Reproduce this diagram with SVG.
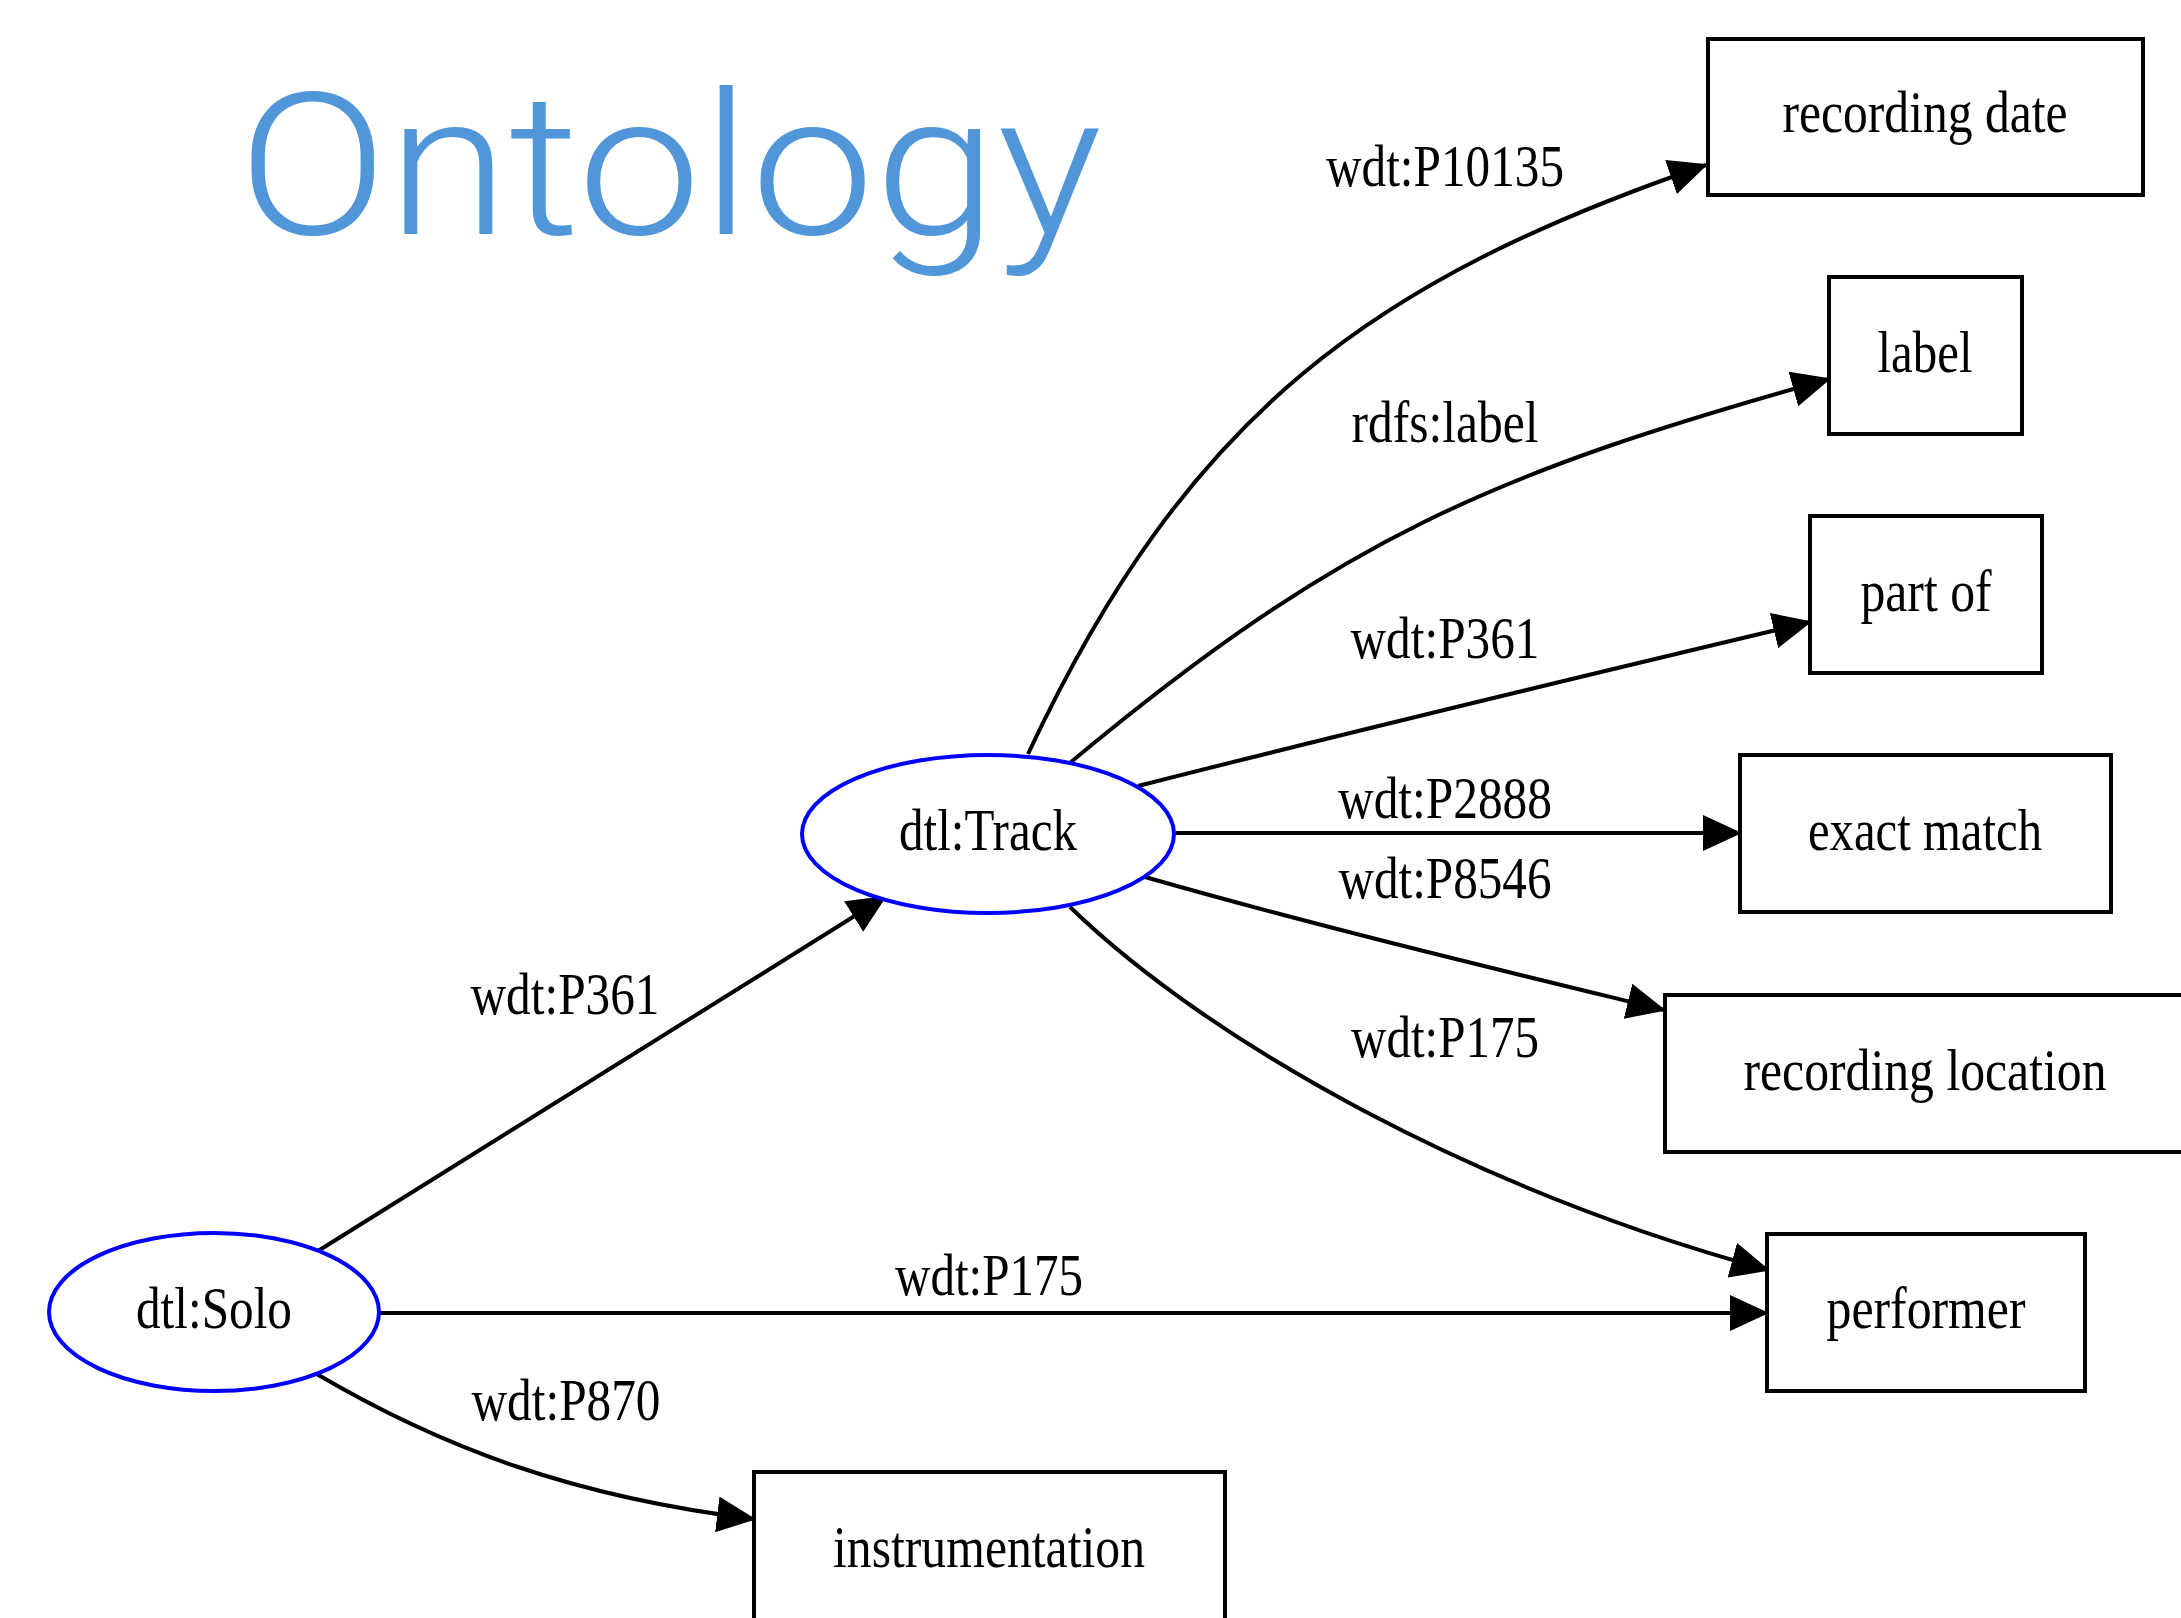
<svg xmlns="http://www.w3.org/2000/svg" width="2181" height="1618" viewBox="0 0 2181 1618">
<style>
.t{font-family:"Liberation Serif","Times New Roman",serif;font-size:60px;fill:#000;text-anchor:middle}
.box{fill:#fff;stroke:#000;stroke-width:4}
.ell{fill:#fff;stroke:#0000ff;stroke-width:4}
.e{fill:none;stroke:#000;stroke-width:4;marker-end:url(#arr)}
.title{font-family:Roboto,Lato,"Liberation Sans",Arial,sans-serif;font-weight:300;font-size:198px;fill:#5096d8}
</style>
<defs>
<marker id="arr" markerUnits="userSpaceOnUse" viewBox="0 0 39 36" markerWidth="39" markerHeight="36" refX="37" refY="18" orient="auto">
<path d="M0,0 L39,18 L0,36 z" fill="#000"/>
</marker>
</defs>
<rect width="2181" height="1618" fill="#fff"/>
<text class="title" x="238" y="234" textLength="864" lengthAdjust="spacingAndGlyphs">Ontology</text>
<g id="edges">
<path class="e" d="M1028,754 C1189,410 1375,279 1706,165"/>
<path class="e" d="M1071,762 C1340,538 1492,473 1829,379"/>
<path class="e" d="M1138,786 C1350,732 1600,672 1810,622"/>
<path class="e" d="M1176,833 L1740,833"/>
<path class="e" d="M1145,877 C1320,927 1500,970 1664,1010"/>
<path class="e" d="M1070,907 C1214,1046 1478,1191 1768,1270"/>
<path class="e" d="M318,1251 L885,897"/>
<path class="e" d="M380,1313 L1767,1313"/>
<path class="e" d="M315,1373 C444,1449 575,1497 754,1519"/>
<text class="t" x="1445" y="186" textLength="238" lengthAdjust="spacingAndGlyphs">wdt:P10135</text>
<text class="t" x="1445" y="442" textLength="187" lengthAdjust="spacingAndGlyphs">rdfs:label</text>
<text class="t" x="1445" y="658" textLength="189" lengthAdjust="spacingAndGlyphs">wdt:P361</text>
<text class="t" x="1445" y="818" textLength="214" lengthAdjust="spacingAndGlyphs">wdt:P2888</text>
<text class="t" x="1445" y="898" textLength="213" lengthAdjust="spacingAndGlyphs">wdt:P8546</text>
<text class="t" x="1445" y="1057" textLength="188" lengthAdjust="spacingAndGlyphs">wdt:P175</text>
<text class="t" x="565" y="1014" textLength="189" lengthAdjust="spacingAndGlyphs">wdt:P361</text>
<text class="t" x="989" y="1295" textLength="188" lengthAdjust="spacingAndGlyphs">wdt:P175</text>
<text class="t" x="566" y="1420" textLength="189" lengthAdjust="spacingAndGlyphs">wdt:P870</text>
</g>
<g id="track">
<ellipse class="ell" cx="988" cy="834" rx="186" ry="79"/>
<text class="t" x="988" y="850" textLength="178" lengthAdjust="spacingAndGlyphs">dtl:Track</text>
</g>
<g id="solo">
<ellipse class="ell" cx="214" cy="1312" rx="165" ry="79"/>
<text class="t" x="214" y="1328" textLength="156" lengthAdjust="spacingAndGlyphs">dtl:Solo</text>
</g>
<g id="recording-date">
<rect class="box" x="1708" y="39" width="435" height="156"/>
<text class="t" x="1925" y="132" textLength="285" lengthAdjust="spacingAndGlyphs">recording date</text>
</g>
<g id="label">
<rect class="box" x="1829" y="277" width="193" height="157"/>
<text class="t" x="1925" y="372" textLength="95" lengthAdjust="spacingAndGlyphs">label</text>
</g>
<g id="part-of">
<rect class="box" x="1810" y="516" width="232" height="157"/>
<text class="t" x="1926" y="611" textLength="131" lengthAdjust="spacingAndGlyphs">part of</text>
</g>
<g id="exact-match">
<rect class="box" x="1740" y="755" width="371" height="157"/>
<text class="t" x="1925" y="850" textLength="234" lengthAdjust="spacingAndGlyphs">exact match</text>
</g>
<g id="recording-location">
<rect class="box" x="1665" y="995" width="520" height="157"/>
<text class="t" x="1925" y="1090" textLength="363" lengthAdjust="spacingAndGlyphs">recording location</text>
</g>
<g id="performer">
<rect class="box" x="1767" y="1234" width="318" height="157"/>
<text class="t" x="1926" y="1328" textLength="199" lengthAdjust="spacingAndGlyphs">performer</text>
</g>
<g id="instrumentation">
<rect class="box" x="754" y="1472" width="471" height="157"/>
<text class="t" x="989" y="1567" textLength="312" lengthAdjust="spacingAndGlyphs">instrumentation</text>
</g>
</svg>
